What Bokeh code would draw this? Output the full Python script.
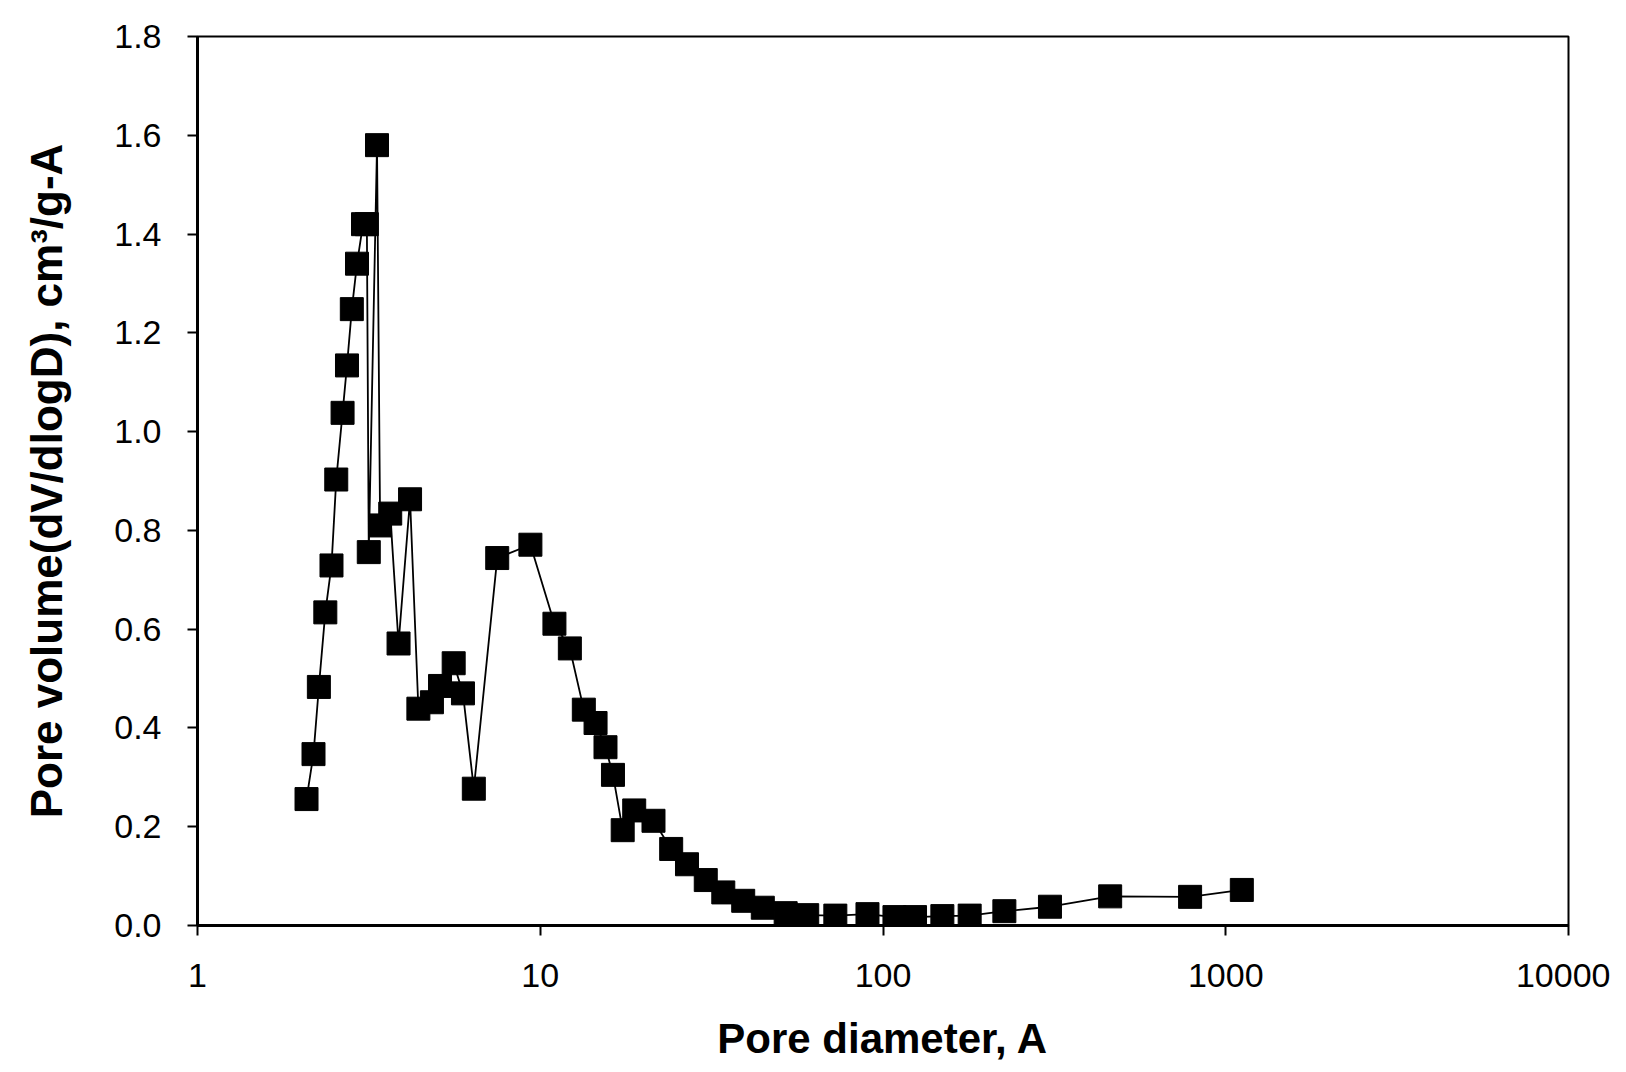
from bokeh.plotting import figure
from bokeh.models import Range1d, FixedTicker, PrintfTickFormatter, ColumnDataSource
from bokeh.embed import file_html
from bokeh.resources import INLINE

# Pore diameter (A) and pore volume dV/dlogD (cm3/g-A)
diameter = [2.08, 2.18, 2.26, 2.36, 2.46, 2.54, 2.65, 2.73, 2.82, 2.92,
            3.04, 3.12, 3.16, 3.34, 3.41, 3.65, 3.86, 4.17, 4.41, 4.83,
            5.10, 5.59, 5.95, 6.40, 7.49, 9.36, 11.0, 12.2, 13.4, 14.5,
            15.5, 16.3, 17.4, 18.8, 21.4, 24.1, 26.8, 30.4, 34.2, 39.1,
            44.6, 52.0, 60.1, 72.6, 90.1, 108, 124, 149, 179, 226,
            307, 460, 787, 1114]
volume = [0.256, 0.347, 0.483, 0.634, 0.729, 0.903, 1.038, 1.134, 1.248, 1.340,
          1.420, 1.420, 0.756, 1.580, 0.810, 0.834, 0.571, 0.863, 0.439, 0.452,
          0.485, 0.531, 0.470, 0.277, 0.744, 0.771, 0.611, 0.561, 0.437, 0.410,
          0.361, 0.305, 0.193, 0.233, 0.212, 0.155, 0.124, 0.092, 0.067, 0.050,
          0.036, 0.025, 0.021, 0.020, 0.023, 0.017, 0.017, 0.019, 0.020, 0.029,
          0.038, 0.059, 0.058, 0.072]

x_ticks = [1, 10, 100, 1000, 10000]
y_ticks = [0.0, 0.2, 0.4, 0.6, 0.8, 1.0, 1.2, 1.4, 1.6, 1.8]

src = ColumnDataSource(data=dict(d=diameter, v=volume))

p = figure(width=1610, height=1064, x_axis_type="log",
           x_range=Range1d(1, 10000), y_range=Range1d(0, 1.8),
           output_backend="svg", toolbar_location=None,
           min_border_left=197, min_border_right=42,
           min_border_top=36, min_border_bottom=139)

p.line("d", "v", source=src, line_color="black", line_width=1.8)
p.scatter("d", "v", source=src, marker="square", size=23,
          fill_color="black", line_color="black")

p.grid.visible = False
p.outline_line_color = "black"
p.outline_line_width = 2
p.background_fill_color = "white"
p.border_fill_color = "white"

font = "Liberation Sans"

xa = p.xaxis[0]
xa.ticker = FixedTicker(ticks=x_ticks, minor_ticks=[])
xa.formatter = PrintfTickFormatter(format="%d")
xa.axis_label = "Pore diameter, A"
ya = p.yaxis[0]
ya.ticker = FixedTicker(ticks=y_ticks, minor_ticks=[])
ya.formatter = PrintfTickFormatter(format="%.1f")
ya.axis_label = "Pore volume(dV/dlogD), cm\u00b3/g-A"

for ax in (xa, ya):
    ax.axis_line_width = 3
    ax.axis_line_color = "black"
    ax.major_tick_line_color = "black"
    ax.major_tick_line_width = 2
    ax.major_tick_out = 10
    ax.major_tick_in = 0
    ax.minor_tick_line_color = None
    ax.major_label_text_font = font
    ax.major_label_text_font_size = "34px"
    ax.major_label_text_color = "black"
    ax.axis_label_text_font = font
    ax.axis_label_text_font_style = "bold"
    ax.axis_label_text_color = "black"

xa.axis_label_text_font_size = "42px"
ya.axis_label_text_font_size = "44px"
xa.major_label_standoff = 28
xa.axis_label_standoff = 25
ya.major_label_standoff = 26
ya.axis_label_standoff = 40

open("out.html", "w").write(file_html(p, INLINE))
